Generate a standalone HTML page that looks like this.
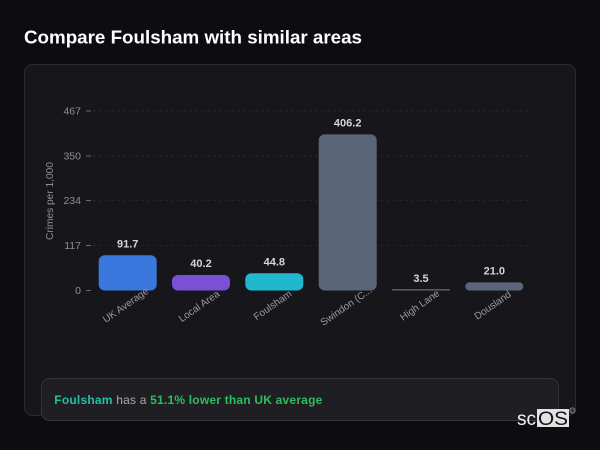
<!DOCTYPE html>
<html>
<head>
<meta charset="utf-8">
<style>
  html, body { margin: 0; padding: 0; background: #0d0d11; }
  body { width: 600px; height: 450px; overflow: hidden; }
  svg { display: block; }
  text { font-family: "Liberation Sans", "DejaVu Sans", sans-serif; }
</style>
</head>
<body>
<svg width="600" height="450" viewBox="0 0 600 450" xmlns="http://www.w3.org/2000/svg">
  <rect x="0" y="0" width="600" height="450" fill="#0d0d11"/>

  <!-- Title -->
  <text x="24" y="43.5" font-size="18" font-weight="bold" fill="#ffffff" textLength="338" lengthAdjust="spacingAndGlyphs">Compare Foulsham with similar areas</text>

  <!-- Card -->
  <rect x="24.5" y="64.5" width="551" height="351" rx="8" ry="8" fill="#17171b" stroke="#2c2c32" stroke-width="1"/>

  <!-- Gridlines -->
  <g stroke="#232329" stroke-width="1" stroke-dasharray="3 3">
    <line x1="93" y1="111" x2="531" y2="111"/>
    <line x1="93" y1="156" x2="531" y2="156"/>
    <line x1="93" y1="200.5" x2="531" y2="200.5"/>
    <line x1="93" y1="245.5" x2="531" y2="245.5"/>
  </g>

  <!-- Y ticks -->
  <g stroke="#6a6a72" stroke-width="1">
    <line x1="86" y1="111" x2="91" y2="111"/>
    <line x1="86" y1="156" x2="91" y2="156"/>
    <line x1="86" y1="200.5" x2="91" y2="200.5"/>
    <line x1="86" y1="245.5" x2="91" y2="245.5"/>
    <line x1="86" y1="290.5" x2="91" y2="290.5"/>
  </g>
  <g font-size="10.5" fill="#8e8e96" text-anchor="end">
    <text x="81" y="114.7">467</text>
    <text x="81" y="159.7">350</text>
    <text x="81" y="204.2">234</text>
    <text x="81" y="249.2">117</text>
    <text x="81" y="294.2">0</text>
  </g>

  <!-- Y axis label -->
  <text x="0" y="0" font-size="10" fill="#8e8e96" text-anchor="middle" transform="translate(53,201) rotate(-90)" textLength="78" lengthAdjust="spacingAndGlyphs">Crimes per 1,000</text>

  <!-- Bars -->
  <rect x="98.7" y="255.25" width="58" height="35.25" rx="6" ry="6" fill="#3a78de"/>
  <rect x="172" y="275" width="58" height="15.5" rx="6" ry="6" fill="#7a50d6"/>
  <rect x="245.3" y="273.3" width="58" height="17.2" rx="6" ry="6" fill="#1fb8cf"/>
  <rect x="318.7" y="134.4" width="58" height="156.1" rx="6" ry="6" fill="#5a6579"/>
  <rect x="392" y="289.15" width="58" height="1.35" rx="0.6" ry="0.6" fill="#5a6579"/>
  <rect x="465.3" y="282.4" width="58" height="8.1" rx="4" ry="4" fill="#5a6579"/>

  <!-- Value labels -->
  <g font-size="11" font-weight="bold" fill="#d4d4da" text-anchor="middle">
    <text x="127.7" y="247.3">91.7</text>
    <text x="201" y="267">40.2</text>
    <text x="274.3" y="265.3">44.8</text>
    <text x="347.7" y="126.4">406.2</text>
    <text x="421" y="282">3.5</text>
    <text x="494.3" y="274.4">21.0</text>
  </g>

  <!-- X labels -->
  <g font-size="10" fill="#9a9aa2" text-anchor="middle">
    <text x="0" y="3.5" transform="translate(125.5,305) rotate(-35)">UK Average</text>
    <text x="0" y="3.5" transform="translate(199,306) rotate(-35)">Local Area</text>
    <text x="0" y="3.5" transform="translate(272.5,305) rotate(-35)">Foulsham</text>
    <text x="0" y="3.5" transform="translate(346,306) rotate(-35)">Swindon (C...</text>
    <text x="0" y="3.5" transform="translate(419.5,305) rotate(-35)">High Lane</text>
    <text x="0" y="3.5" transform="translate(492.5,305) rotate(-35)">Dousland</text>
  </g>

  <!-- Summary box -->
  <rect x="41.5" y="378.5" width="517" height="42" rx="8" ry="8" fill="#1f1f23" stroke="#34343a" stroke-width="1"/>
  <text x="54.3" y="404" font-size="12" textLength="268" lengthAdjust="spacing"><tspan font-weight="bold" fill="#22c1a3">Foulsham</tspan><tspan fill="#a8a8b0"> has a </tspan><tspan font-weight="bold" fill="#2dbd5e">51.1% lower than UK average</tspan></text>

  <!-- Logo -->
  <rect x="537" y="409" width="32" height="18" fill="#e2e2e2"/>
  <text x="517" y="425" font-size="19" fill="#f2f2f2">sc</text>
  <text x="538" y="425" font-size="19" fill="#111111" textLength="30" lengthAdjust="spacingAndGlyphs">OS</text>
  <circle cx="572.5" cy="410.5" r="2.6" fill="none" stroke="#9a9aa6" stroke-width="0.8"/>
  <text x="572.5" y="412" font-size="3.5" fill="#9a9aa6" text-anchor="middle">R</text>
</svg>
</body>
</html>
